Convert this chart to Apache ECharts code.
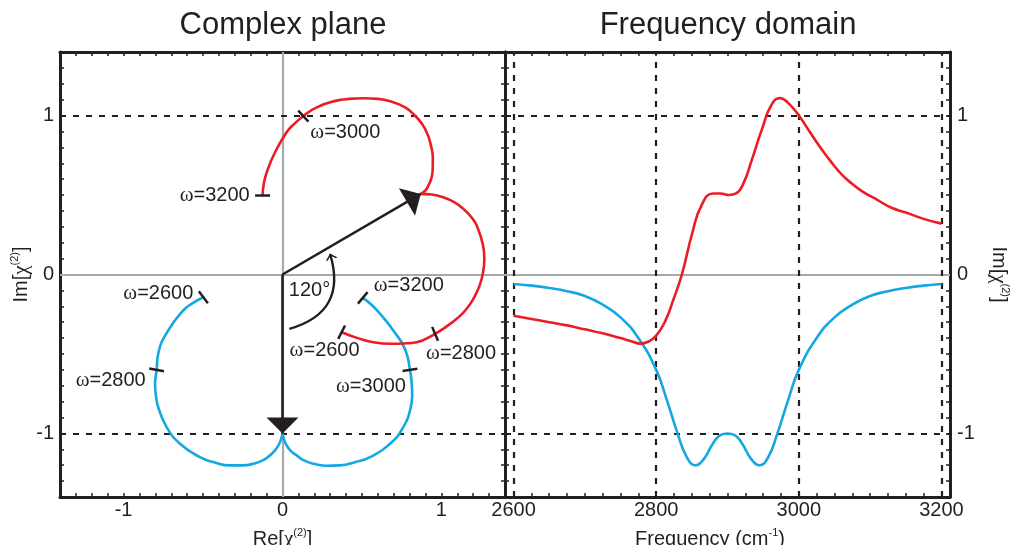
<!DOCTYPE html>
<html>
<head>
<meta charset="utf-8">
<title>Complex plane / Frequency domain</title>
<script src="https://cdn.jsdelivr.net/npm/echarts@6/dist/echarts.min.js"></script>
<style>
  html, body { margin: 0; padding: 0; background: #fff; }
  #chart { width: 1011px; height: 545px; }
</style>
</head>
<body>
<div id="chart"></div>
<script>
// complex plane, blue response: two lobes meeting at the cusp (0,-1), w=2600 -> 2900 -> 3200
var blueLobeLeft = [[-0.498,-0.143],[-0.565,-0.180],[-0.624,-0.226],[-0.719,-0.352],[-0.782,-0.499],[-0.792,-0.600],
    [-0.802,-0.688],[-0.796,-0.765],[-0.782,-0.835],[-0.729,-0.960],[-0.645,-1.065],[-0.519,-1.149],[-0.420,-1.185],
    [-0.330,-1.201],[-0.250,-1.201],[-0.184,-1.191],[-0.125,-1.170],[-0.079,-1.138],[-0.050,-1.110],
    [-0.026,-1.075],[-0.012,-1.045],[0,-1.0]];
var blueLobeRight = [[0,-1.0],[0.012,-1.045],[0.026,-1.075],[0.052,-1.110],[0.089,-1.138],[0.135,-1.170],
    [0.194,-1.191],[0.270,-1.203],[0.362,-1.201],[0.460,-1.180],[0.551,-1.149],[0.677,-1.065],[0.760,-0.960],
    [0.807,-0.835],[0.816,-0.760],[0.813,-0.688],[0.802,-0.600],[0.771,-0.470],[0.697,-0.352],[0.614,-0.247],
    [0.560,-0.190],[0.505,-0.147]];

// complex plane, red response (blue turned by 120 deg), cusp at the phasor tip
var redLobeLower = [[0.372,-0.363],[0.488,-0.405],[0.580,-0.428],[0.677,-0.436],[0.760,-0.434],[0.844,-0.426],
    [0.960,-0.373],[1.035,-0.325],[1.096,-0.279],[1.155,-0.220],[1.201,-0.153],[1.240,-0.070],[1.262,0.014],
    [1.270,0.098],[1.262,0.182],[1.222,0.308],[1.185,0.365],[1.138,0.413],[1.080,0.455],[1.012,0.486],
    [0.940,0.503],[0.870,0.507]];
var redLobeUpper = [[0.870,0.507],[0.900,0.530],[0.918,0.560],[0.938,0.610],[0.945,0.665],[0.946,0.730],
    [0.939,0.790],[0.897,0.916],[0.823,1.011],[0.765,1.055],[0.697,1.084],[0.600,1.105],[0.509,1.109],
    [0.420,1.105],[0.341,1.094],[0.215,1.052],[0.131,0.996],[0.074,0.948],[0.026,0.895],[-0.047,0.769],
    [-0.099,0.643],[-0.118,0.570],[-0.125,0.497]];

// frequency marks on the curves
var markOmega = [2600, 2800, 3000, 3200];
var blueMarkPts = [[-0.498,-0.143],[-0.792,-0.600],[0.802,-0.600],[0.505,-0.147]];
var redMarkPts = [[0.372,-0.363],[0.960,-0.373],[0.131,0.996],[-0.125,0.497]];

// phasors and the 120 deg arc
var phasorTips = [[0.870,0.507],[0,-1.0]];
var arcEnds = [[0.299,0.130],[0.043,-0.342]];
var angleText = '120°';
var anglePos = [0.17,-0.10];

// frequency domain
var blueFreq = [2600,2625,2650,2675,2700,2725,2750,2775,2800,2815,2830,2843,2855,2867,2880,2890,2900,
    2910,2920,2933,2945,2957,2970,2985,3000,3025,3050,3075,3100,3125,3150,3175,3200];
var blueIm = [-0.06,-0.07,-0.085,-0.105,-0.135,-0.19,-0.27,-0.40,-0.60,-0.79,-1.00,-1.15,-1.20,-1.16,-1.06,-1.01,-1.00,
    -1.01,-1.06,-1.16,-1.20,-1.15,-1.00,-0.79,-0.60,-0.40,-0.27,-0.19,-0.135,-0.105,-0.085,-0.07,-0.06];
var redFreq = [2600,2625,2650,2675,2700,2725,2750,2765,2778,2790,2800,2812,2824,2836,2850,2864,2880,2890,
    2902,2912,2922,2934,2948,2962,2974,2985,3000,3015,3030,3045,3060,3075,3090,3110,3130,3150,3175,3200];
var redIm = [-0.26,-0.28,-0.30,-0.32,-0.345,-0.37,-0.40,-0.42,-0.435,-0.42,-0.385,-0.30,-0.16,0.0,0.25,0.44,0.51,0.51,
    0.50,0.51,0.57,0.72,0.91,1.07,1.11,1.08,1.00,0.90,0.80,0.71,0.63,0.57,0.52,0.47,0.42,0.39,0.35,0.32];

var levels = [-1, 1];
var freqTicks = [2600, 2800, 3000, 3200];

// styles
var FONT = '"Liberation Sans", Arial, Helvetica, sans-serif';
var INK = '#231f20';
var RED = '#ec1c24';
var BLUE = '#14a7e2';
var GREY = '#a7a9ac';
var blueMarkRot = [37, 79, -82, -40];
var blueLabelOff = [[-45,-4],[-46,11],[-39,17],[46,-12]];
var redMarkRot = [-27, 23, 43, 90];
var redLabelOff = [[-17,18],[26,20],[42,16],[-48,0]];

var freqMinor = [];
for (var f = freqTicks[0]; f <= freqTicks[freqTicks.length - 1]; f += 25) freqMinor.push(f);

function intOnly(v) {
    return Math.abs(v - Math.round(v)) < 1e-6 ? String(Math.round(v)) : '';
}

var axisLine = {show: true, onZero: false, lineStyle: {color: INK, width: 3}};
var tick = {show: true, inside: true, length: 4, lineStyle: {color: INK, width: 1.5}};
var labelStyle = {color: INK, fontSize: 20, fontFamily: FONT};
var nameRich = {
    t: {fontSize: 20, fontFamily: FONT, color: INK, lineHeight: 24},
    g: {fontSize: 21, fontFamily: '"Liberation Serif", serif', color: INK, lineHeight: 24},
    s: {fontSize: 11, fontFamily: FONT, color: INK, lineHeight: 12, verticalAlign: 'top'}
};
var imName = '{t|Im[}{g|χ}{s|(2)}{t|]}';

var zeroLine = {color: GREY, width: 2.2, type: 'solid'};
var dashLine = {color: INK, width: 2.2, type: [6, 7]};

// tip of the filled head sits at the end point
var arrowHead = 'path://M6,0 M6,16 L12,32 L0,32 Z';
var openHead = 'path://M6,0 M6,10 L12,19 L10.4,20 L6,13.2 L1.6,20 L0,19 Z';

var textLabel = {
    show: true, position: 'inside', color: INK, opacity: 1, textBorderWidth: 0,
    fontSize: 20, fontFamily: FONT
};

function curve(points, color, xi, yi) {
    return {
        type: 'line', xAxisIndex: xi, yAxisIndex: yi, data: points,
        smooth: 0.5, showSymbol: false, symbol: 'none', silent: true, z: 5,
        lineStyle: {color: color, width: 2.6}
    };
}

function zip(xs, ys) {
    return xs.map(function (x, i) { return [x, ys[i]]; });
}

function markTicks(pts, rots) {
    return {
        type: 'scatter', xAxisIndex: 0, yAxisIndex: 0, z: 8, silent: true,
        symbol: 'rect', symbolSize: [2.5, 15], itemStyle: {color: INK, opacity: 1},
        data: pts.map(function (p, i) { return {value: p, symbolRotate: rots[i]}; })
    };
}

function markLabels(pts, offs) {
    return {
        type: 'scatter', xAxisIndex: 0, yAxisIndex: 0, z: 9, silent: true,
        symbol: 'circle', symbolSize: 0.01, itemStyle: {color: INK, opacity: 1},
        label: Object.assign({}, textLabel, {
            formatter: function (p) { return '{w|ω}=' + p.value[2]; },
            rich: {w: {fontFamily: '"Liberation Serif", serif', fontSize: 21, color: INK}}
        }),
        data: pts.map(function (p, i) {
            return {value: [p[0], p[1], markOmega[i]], label: {offset: offs[i]}};
        })
    };
}

var chart = echarts.init(document.getElementById('chart'), null, {renderer: 'canvas'});

var option = {
    animation: false,
    backgroundColor: '#fff',
    textStyle: {fontFamily: FONT},
    graphic: [
        {type: 'text', x: 283, y: 25, style: {text: 'Complex plane', font: '31px ' + FONT, fill: INK, align: 'center', verticalAlign: 'middle'}},
        {type: 'text', x: 728, y: 25, style: {text: 'Frequency domain', font: '31px ' + FONT, fill: INK, align: 'center', verticalAlign: 'middle'}}
    ],
    grid: [
        {left: 60, top: 52, width: 445, height: 445, containLabel: false, outerBoundsMode: 'none'},
        {left: 505, top: 52, width: 445, height: 445, containLabel: false, outerBoundsMode: 'none'}
    ],
    xAxis: [
        {gridIndex: 0, type: 'value', position: 'bottom', min: -1.4, max: 1.4, interval: 0.1,
            axisLine: axisLine, axisTick: tick, splitLine: {show: false},
            axisLabel: Object.assign({margin: 3, formatter: intOnly}, labelStyle),
            name: '{t|Re[}{g|χ}{s|(2)}{t|]}', nameLocation: 'middle', nameGap: 30,
            nameTextStyle: {rich: nameRich}},
        {gridIndex: 0, type: 'value', position: 'top', min: -1.4, max: 1.4, interval: 0.1,
            axisLine: axisLine, axisTick: tick, splitLine: {show: false}, axisLabel: {show: false}},
        {gridIndex: 1, type: 'value', position: 'bottom', min: 2588, max: 3212,
            axisLine: axisLine, axisTick: Object.assign({customValues: freqMinor}, tick), splitLine: {show: false},
            axisLabel: Object.assign({margin: 3, customValues: freqTicks, formatter: function (v) { return String(v); }}, labelStyle),
            name: '{t|Frequency (cm}{s|-1}{t|)}', nameLocation: 'middle', nameGap: 30,
            nameTextStyle: {rich: nameRich, padding: [0, 35, 0, 0]}},
        {gridIndex: 1, type: 'value', position: 'top', min: 2588, max: 3212,
            axisLine: axisLine, axisTick: Object.assign({customValues: freqMinor}, tick),
            splitLine: {show: false}, axisLabel: {show: false}}
    ],
    yAxis: [
        {gridIndex: 0, type: 'value', position: 'left', min: -1.4, max: 1.4, interval: 0.1,
            axisLine: axisLine, axisTick: tick, splitLine: {show: false},
            axisLabel: Object.assign({margin: 6, formatter: intOnly}, labelStyle),
            name: imName, nameLocation: 'middle', nameGap: 27, nameRotate: 90,
            nameTextStyle: {rich: nameRich}},
        {gridIndex: 0, type: 'value', position: 'right', min: -1.4, max: 1.4, interval: 0.1,
            axisLine: axisLine, axisTick: tick, splitLine: {show: false}, axisLabel: {show: false}},
        {gridIndex: 1, type: 'value', position: 'right', min: -1.4, max: 1.4, interval: 0.1,
            axisLine: axisLine, axisTick: tick, splitLine: {show: false},
            axisLabel: Object.assign({margin: 7, formatter: intOnly}, labelStyle),
            name: imName, nameLocation: 'middle', nameGap: 37, nameRotate: -90,
            nameTextStyle: {rich: nameRich}},
        {gridIndex: 1, type: 'value', position: 'left', min: -1.4, max: 1.4, interval: 0.1,
            axisLine: axisLine, axisTick: tick, splitLine: {show: false}, axisLabel: {show: false}}
    ],
    series: [
        // reference lines
        {type: 'line', xAxisIndex: 0, yAxisIndex: 0, data: [], silent: true, z: 1,
            markLine: {silent: true, symbol: ['none', 'none'], label: {show: false}, animation: false,
                data: [{yAxis: 0, lineStyle: zeroLine}, {xAxis: 0, lineStyle: zeroLine}].concat(
                    levels.map(function (v) { return {yAxis: v, lineStyle: dashLine}; }))}},
        {type: 'line', xAxisIndex: 2, yAxisIndex: 2, data: [], silent: true, z: 1,
            markLine: {silent: true, symbol: ['none', 'none'], label: {show: false}, animation: false,
                data: [{yAxis: 0, lineStyle: zeroLine}].concat(
                    levels.map(function (v) { return {yAxis: v, lineStyle: dashLine}; }),
                    freqTicks.map(function (v) { return {xAxis: v, lineStyle: dashLine}; }))}},

        // complex plane
        curve(blueLobeLeft, BLUE, 0, 0),
        curve(blueLobeRight, BLUE, 0, 0),
        curve(redLobeLower, RED, 0, 0),
        curve(redLobeUpper, RED, 0, 0),
        {type: 'lines', coordinateSystem: 'cartesian2d', xAxisIndex: 0, yAxisIndex: 0, z: 7, silent: true,
            symbol: ['none', arrowHead], symbolSize: [13, 32],
            lineStyle: {color: INK, width: 2.6, opacity: 1, curveness: 0},
            data: phasorTips.map(function (p) { return {coords: [[0, 0], p]}; })},
        {type: 'lines', coordinateSystem: 'cartesian2d', xAxisIndex: 0, yAxisIndex: 0, z: 7, silent: true,
            symbol: [openHead, 'none'], symbolSize: [12, 20],
            lineStyle: {color: INK, width: 2.4, opacity: 1, curveness: 0.51},
            data: [{coords: [arcEnds[0], arcEnds[1]]}]},
        markTicks(blueMarkPts, blueMarkRot),
        markTicks(redMarkPts, redMarkRot),
        markLabels(blueMarkPts, blueLabelOff),
        markLabels(redMarkPts, redLabelOff),
        {type: 'scatter', xAxisIndex: 0, yAxisIndex: 0, z: 9, silent: true,
            symbol: 'circle', symbolSize: 0.01, itemStyle: {color: INK, opacity: 1},
            label: Object.assign({}, textLabel, {formatter: angleText}),
            data: [anglePos]},

        // frequency domain
        curve(zip(blueFreq, blueIm), BLUE, 2, 2),
        curve(zip(redFreq, redIm), RED, 2, 2)
    ]
};

chart.setOption(option);
</script>
</body>
</html>
